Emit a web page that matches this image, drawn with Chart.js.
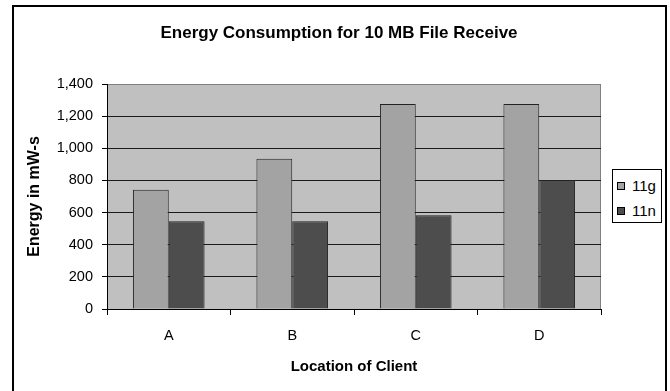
<!DOCTYPE html>
<html><head><meta charset="utf-8">
<script src="https://cdn.jsdelivr.net/npm/chart.js@4/dist/chart.umd.min.js"></script>
<style>
html,body{margin:0;padding:0;background:#fff;}
#wrap{position:relative;width:670px;height:391px;overflow:hidden;font-family:'Liberation Sans',Arial,sans-serif;}
#c{position:absolute;left:0;top:0;}
#frame{position:absolute;left:12px;top:5px;width:655px;height:500px;border:2px solid #000;box-sizing:border-box;pointer-events:none;}
#legend{position:absolute;left:612px;top:169px;width:50px;height:54px;border:1px solid #000;box-sizing:border-box;background:#fff;}
.li{position:absolute;left:0;height:18px;width:48px;}
.sw{position:absolute;left:4px;top:5px;width:8px;height:8px;border:1px solid #000;box-sizing:border-box;}
.lt{position:absolute;left:19px;top:0;font-size:15px;line-height:18px;color:#000;}
</style></head>
<body>
<div id="wrap">
<canvas id="c" width="670" height="391"></canvas>
<div id="frame"></div>
<div id="legend"></div>
</div>
<script>
const categories = ['A', 'B', 'C', 'D'];
const seriesNames = ['11g', '11n'];
const values11g = [742, 935, 1275, 1275];
const values11n = [546, 546, 583, 803];
const yMin = 0, yMax = 1400, yStep = 200;
const chartTitle = 'Energy Consumption for 10 MB File Receive';
const xTitle = 'Location of Client';
const yTitle = 'Energy in mW-s';
const seriesColors = ['#A3A3A3', '#4D4D4D'];

const FONT = "'Liberation Sans', Arial, sans-serif";

const plotBg = {
  id: 'plotBg',
  beforeDraw(chart) {
    const {ctx, chartArea: a} = chart;
    ctx.save();
    ctx.fillStyle = '#C0C0C0';
    ctx.fillRect(a.left, a.top, a.right - a.left, a.bottom - a.top);
    ctx.strokeStyle = '#808080';
    ctx.lineWidth = 1;
    ctx.strokeRect(a.left + 0.5, a.top + 0.5, a.right - a.left - 1, a.bottom - a.top);
    ctx.restore();
  }
};

const chart = new Chart(document.getElementById('c'), {
  type: 'bar',
  data: {
    labels: categories,
    datasets: [
      {label: seriesNames[0], data: values11g, backgroundColor: seriesColors[0], borderColor: '#222', borderWidth: 1, yAxisID: 'y'},
      {label: seriesNames[1], data: values11n, backgroundColor: seriesColors[1], borderColor: '#222', borderWidth: 1, yAxisID: 'y'}
    ]
  },
  plugins: [plotBg],
  options: {
    responsive: false,
    animation: false,
    locale: 'en-US',
    devicePixelRatio: 1,
    layout: {padding: {left: 8, right: 0, top: 0, bottom: 0}},
    datasets: {bar: {categoryPercentage: 0.58, barPercentage: 1.0}},
    plugins: {
      legend: {display: false},
      tooltip: {enabled: false},
      title: {
        display: true, text: chartTitle, color: '#000',
        font: {family: FONT, size: 17, weight: 'bold', lineHeight: 1.2},
        padding: {top: 22.8, bottom: 40.8}
      }
    },
    scales: {
      x: {
        offset: true,
        grid: {display: true, drawOnChartArea: false, drawTicks: true, tickLength: 6, color: '#000', offset: true},
        border: {display: true, color: '#000', width: 1},
        ticks: {color: '#000', padding: 12.3, font: {family: FONT, size: 14.5, lineHeight: 1.2}},
        title: {display: true, text: xTitle, color: '#000', font: {family: FONT, size: 15, weight: 'bold', lineHeight: 1.2}, padding: {top: 0, bottom: 15}},
        afterFit(s) { s.height = 82; }
      },
      y: {
        position: 'left',
        min: yMin, max: yMax,
        grid: {
          display: true, drawOnChartArea: true, drawTicks: true, tickLength: 5,
          color: (c) => (c.tick && c.tick.value === yMax) ? '#808080' : '#1a1a1a',
          tickColor: '#000'
        },
        border: {display: true, color: '#000', width: 1},
        ticks: {stepSize: yStep, color: '#000', padding: 9, font: {family: FONT, size: 14.5, lineHeight: 1.2}},
        title: {display: true, text: yTitle, color: '#000', font: {family: FONT, size: 16, weight: 'bold', lineHeight: 1.2}, padding: {top: 17.4, bottom: 0}},
        afterFit(s) { s.width = 99; }
      },
      yRight: {
        type: 'linear',
        position: 'right',
        display: true,
        grid: {display: false},
        border: {display: false},
        ticks: {display: false},
        afterFit(s) { s.width = 69; }
      }
    }
  }
});

// HTML legend built from the chart's datasets
const legend = document.getElementById('legend');
chart.data.datasets.forEach((ds, i) => {
  const item = document.createElement('div');
  item.className = 'li';
  item.style.top = (7 + i * 25) + 'px';
  const sw = document.createElement('div');
  sw.className = 'sw';
  sw.style.background = ds.backgroundColor;
  const t = document.createElement('div');
  t.className = 'lt';
  t.textContent = ds.label;
  item.appendChild(sw);
  item.appendChild(t);
  legend.appendChild(item);
});
</script>
</body></html>
